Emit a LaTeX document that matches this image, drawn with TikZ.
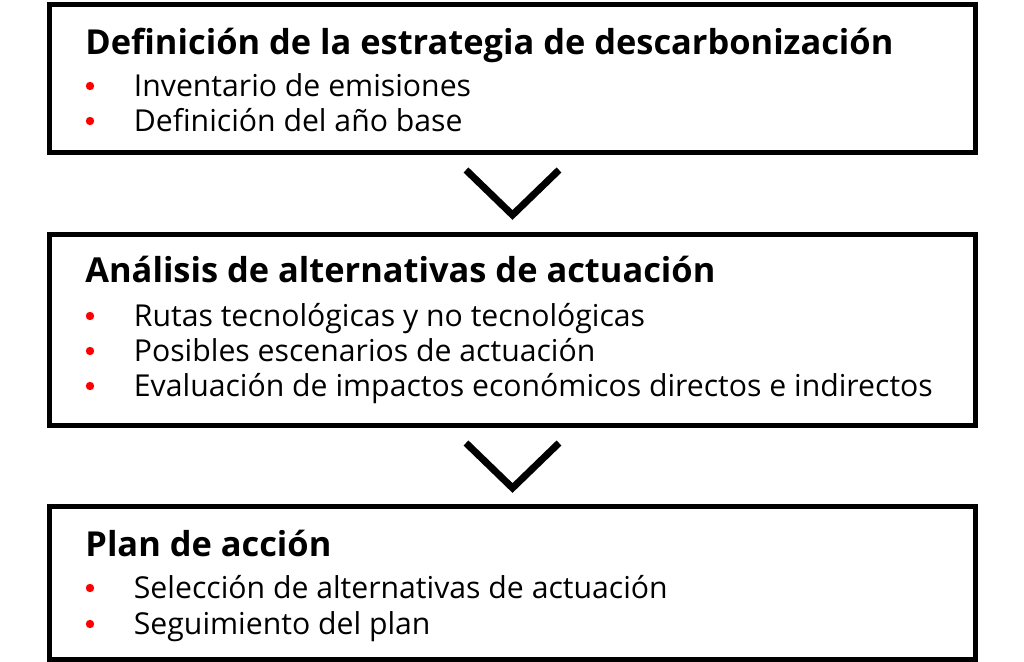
\documentclass[tikz,border=0pt]{standalone}
\usepackage{fontspec}
\setmainfont{Open Sans}
\usetikzlibrary{positioning,calc}

\begin{document}
\begin{tikzpicture}[x=0.5pt,y=-0.5pt,
    stagebox/.style={draw=black, rectangle, line width=2.5pt, outer sep=0pt, inner sep=0pt, minimum width=463pt},
    stagetitle/.style={anchor=base west, inner sep=0pt, font=\fontsize{17.2}{21}\selectfont\bfseries},
    stageitem/.style={anchor=base west, inner sep=0pt, font=\fontsize{15.1}{18}\selectfont},
    dot/.style={circle, fill=red, inner sep=0pt, minimum size=4.2pt},
    chevron/.style={draw=black, line width=3.5pt, miter limit=4}]
       \useasboundingbox (0,0) rectangle (1024,662);

       %Defining boxes
       \node[stagebox, minimum height=74.25pt] (Strategy) at (512.5,78.75) {};
       \node[stagebox, minimum height=95.5pt] (Analysis) at (512.5,330) {};
       \node[stagebox, minimum height=76.25pt] (Plan) at (512.5,583.25) {};

       %Texts of first box
       \node[stagetitle] (StrategyTitle) at (85,55) {Definición de la estrategia de descarbonización};
       \node[stageitem] (StrategyA) at (133.5,97) {Inventario de emisiones};
       \node[stageitem] (StrategyB) at (133.5,132) {Definición del año base};
       \node[dot] (dotSA) at (90,86) {};
       \node[dot] (dotSB) at (90,121) {};

       %Texts of second box
       \node[stagetitle] (AnalysisTitle) at (85,283) {Análisis de alternativas de actuación};
       \node[stageitem] (AnalysisA) at (133.5,327) {Rutas tecnológicas y no tecnológicas};
       \node[stageitem] (AnalysisB) at (133.5,362) {Posibles escenarios de actuación};
       \node[stageitem] (AnalysisC) at (133.5,397) {Evaluación de impactos económicos directos e indirectos};
       \node[dot] (dotAA) at (90,316) {};
       \node[dot] (dotAB) at (90,351) {};
       \node[dot] (dotAC) at (90,386) {};

       %Texts of third box
       \node[stagetitle] (PlanTitle) at (85,557) {Plan de acción};
       \node[stageitem] (PlanA) at (133.5,599) {Selección de alternativas de actuación};
       \node[stageitem] (PlanB) at (133.5,635) {Seguimiento del plan};
       \node[dot] (dotPA) at (90,588) {};
       \node[dot] (dotPB) at (90,624) {};

       %Drawing chevrons
       \draw[chevron] ($(Strategy.south)+(-46.5,17)$) -- ++(46.5,45) -- ++(46.5,-45);
       \draw[chevron] ($(Analysis.south)+(-46.5,17.5)$) -- ++(46.5,45) -- ++(46.5,-45);
\end{tikzpicture}
\end{document}
